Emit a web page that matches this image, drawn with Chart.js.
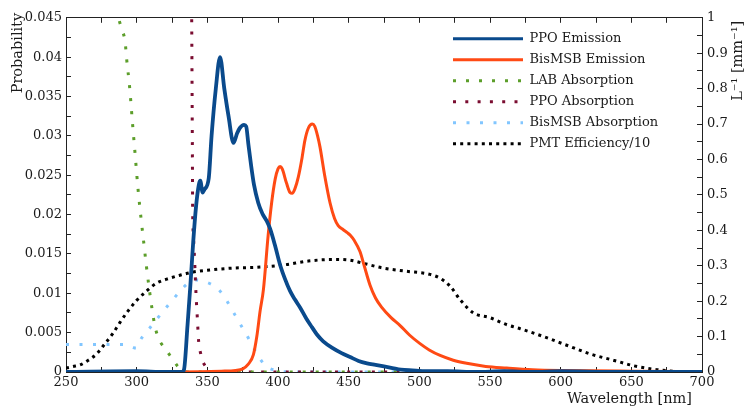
<!DOCTYPE html>
<html><head><meta charset="utf-8">
<script src="https://cdn.jsdelivr.net/npm/chart.js@4/dist/chart.umd.min.js"></script>
<style>html,body{margin:0;padding:0;background:#fff}canvas{display:block}</style>
</head><body>
<canvas id="c" width="747" height="410"></canvas>
<script>
// ---- Data (wavelength in nm) ----
const ppoEmWl  = [250,300,320,332,333.5,336,338,340,342,344,345,346.7,348,351,353,356,359,362,365,368.5,371,373,376,377.5,379,381,383,386,389,392,394.4,398,401.5,405,408.5,412,415.6,420,424,427.4,432,439,445,451,457,463,469,475,481,487,495,505,520,540,560,580,600,640,700];
const ppoEmVal = [0,0.0001,0,0,0.0003,0.006,0.011,0.0165,0.021,0.0238,0.0243,0.0228,0.0232,0.0246,0.030,0.036,0.0400,0.036,0.0325,0.0291,0.0303,0.0310,0.0314,0.0312,0.029,0.0262,0.0238,0.0215,0.0201,0.0192,0.0182,0.016,0.0136,0.0118,0.0103,0.0092,0.0082,0.0068,0.0057,0.0048,0.0039,0.003,0.0024,0.0019,0.0014,0.0011,0.0009,0.0007,0.0005,0.0003,0.0002,0.0001,0.0001,0,0.0001,0,0.0001,0,0];

const bisEmWl  = [250,330,360,370,375,379,382.6,385,387.3,389.7,393,395.5,398,400,401.5,403,406,408.5,410,412,414.4,417,419,421.5,424.3,426,428,429.7,433,436.8,440,442.6,446,449,451,454,458,461,465,469,473.4,480,486.4,493,500.5,507,514.7,524,533.5,547,561.8,580,600,650,700];
const bisEmVal = [0,0,0.0001,0.0002,0.0004,0.001,0.0022,0.0045,0.0077,0.0105,0.0173,0.0215,0.0245,0.0258,0.0261,0.0258,0.0240,0.0228,0.0227,0.0233,0.0248,0.0272,0.0294,0.031,0.0315,0.0312,0.0300,0.0286,0.0250,0.0215,0.0195,0.0186,0.0181,0.0177,0.0174,0.0167,0.0153,0.0135,0.0111,0.0094,0.0082,0.0069,0.0059,0.0047,0.0036,0.0028,0.0021,0.0015,0.0011,0.0007,0.0005,0.0003,0.0002,0.0001,0.00005];

// absorption in L^-1 [mm^-1] (right axis)
const labAbsWl  = [282,287,289.6,291.8,293,295,297,299,301,303,305,307,309,311,313,315.8,318,320.8,323,326,329,332,336,700];
const labAbsVal = [1.06,1.0,0.966,0.933,0.88,0.805,0.705,0.61,0.515,0.437,0.366,0.295,0.232,0.175,0.128,0.092,0.077,0.064,0.05,0.033,0.016,0.005,0,0];

const ppoAbsWl  = [338.8,339.2,339.5,339.6,340.1,340.7,341.3,342,342.9,343.9,345.3,346.5,348.2,351,354,360,700];
const ppoAbsVal = [1.1,0.8,0.55,0.46,0.39,0.34,0.288,0.219,0.154,0.084,0.052,0.033,0.019,0.007,0.001,0,0];

const bisAbsWl  = [250,260,270,280,292,296,299.5,303.5,309,314.6,320.3,326,331.9,337,342,346,349.6,353,357.8,363.2,367.7,372,376.7,380.7,385,389.7,394,398,403,410,700];
const bisAbsVal = [0.0778,0.0778,0.0778,0.0778,0.0778,0.072,0.0675,0.096,0.123,0.151,0.179,0.206,0.234,0.252,0.26,0.258,0.253,0.247,0.234,0.205,0.174,0.144,0.112,0.084,0.052,0.024,0.01,0.005,0.001,0,0];

// PMT efficiency / 10 (left axis)
const pmtWl  = [250,255,260,265,271.7,277.6,282.8,288.2,294.1,300,307.1,314.2,321.3,330.7,340,354,368,385,404,421.5,439,451,460.5,474.6,491,507.6,514.7,521.8,528.8,538.3,550,562,571.3,587.8,604.3,620.8,637.3,651.5,668,680,690,700];
const pmtVal = [0.0005,0.0007,0.0009,0.0014,0.0023,0.0036,0.0048,0.0063,0.0078,0.0091,0.0103,0.0113,0.0118,0.0123,0.0127,0.013,0.0132,0.0133,0.0136,0.0141,0.0143,0.0142,0.0138,0.0132,0.0128,0.0124,0.0119,0.0109,0.0092,0.0075,0.0069,0.006,0.0055,0.0045,0.0034,0.0023,0.0015,0.0008,0.0003,0.0001,0,0];

const seriesNames = ['PPO Emission','BisMSB Emission','LAB Absorption','PPO Absorption','BisMSB Absorption','PMT Efficiency/10'];
const xTicksMajor = 50, xTicksMinor = 25;
const xTitle = 'Wavelength [nm]';
const yTitle = 'Probability';
const y2Title = 'L\u207B\u00B9 [mm\u207B\u00B9]';

const pts = (xs, ys) => xs.map((x, i) => ({x, y: ys[i]}));
const FONT = '"DejaVu Serif", serif';
const TXT = '#1a1a1a';
const AX = '#222';

const titlesPlugin = {
  id: 'axisTitles',
  beforeDraw(chart) {
    const l = chart.legend;
    if (l) {
      l.left = chart.chartArea.left + 379;
      l.top = chart.chartArea.top + 6.5;
      l.right = l.left + 290;
      l.bottom = l.top + 250;
    }
  },
  afterDraw(chart) {
    const ctx = chart.ctx, ca = chart.chartArea;
    ctx.save();
    ctx.fillStyle = TXT;
    ctx.font = '14.5px ' + FONT;
    ctx.textBaseline = 'middle';
    ctx.textAlign = 'right';
    ctx.fillText(xTitle, ca.right - 10, ca.bottom + 27);
    ctx.save();
    ctx.translate(18, ca.top - 5);
    ctx.rotate(-Math.PI / 2);
    ctx.textAlign = 'right';
    ctx.fillText(yTitle, 0, 0);
    ctx.restore();
    ctx.save();
    ctx.translate(ca.right + 36, ca.top + 3);
    ctx.rotate(-Math.PI / 2);
    ctx.textAlign = 'right';
    ctx.fillText(y2Title, 0, 0);
    ctx.restore();
    ctx.restore();
  }
};

const solid = (label, xs, ys, color, w, axis) => ({
  label, data: pts(xs, ys), borderColor: color, backgroundColor: color,
  borderWidth: w, pointRadius: 0, fill: false, yAxisID: axis,
  cubicInterpolationMode: 'monotone', borderJoinStyle: 'round'
});
const dotted = (label, xs, ys, color, dash, axis) => ({
  label, data: pts(xs, ys), borderColor: color, backgroundColor: color,
  borderWidth: 3, borderDash: dash, borderCapStyle: 'butt', pointRadius: 0, fill: false, yAxisID: axis,
  cubicInterpolationMode: 'monotone'
});

const gridCommon = { drawOnChartArea: false, drawTicks: true, tickLength: -5, tickColor: AX, tickWidth: 1 };
const borderCommon = { display: true, color: AX, width: 1 };

new Chart(document.getElementById('c'), {
  type: 'line',
  data: {
    datasets: [
      solid(seriesNames[0], ppoEmWl, ppoEmVal, '#0a4a8c', 3.8, 'y'),
      solid(seriesNames[1], bisEmWl, bisEmVal, '#ff4a14', 3, 'y'),
      dotted(seriesNames[2], labAbsWl, labAbsVal, '#5c9e2a', [3, 10], 'y2'),
      dotted(seriesNames[3], ppoAbsWl, ppoAbsVal, '#7a0c30', [3, 9.3], 'y2'),
      dotted(seriesNames[4], bisAbsWl, bisAbsVal, '#82c6ff', [3, 10.5], 'y2'),
      dotted(seriesNames[5], pmtWl, pmtVal, '#000000', [3, 4.2], 'y')
    ]
  },
  options: {
    responsive: false,
    animation: false,
    devicePixelRatio: 1,
    layout: { padding: 0 },
    plugins: {
      tooltip: { enabled: false },
      legend: {
        position: 'chartArea',
        align: 'start',
        labels: {
          usePointStyle: true, pointStyle: 'line', pointStyleWidth: 70, boxHeight: 13,
          padding: 8, color: TXT, font: { family: FONT, size: 13 },
          generateLabels: chart => {
            const items = Chart.defaults.plugins.legend.labels.generateLabels(chart);
            items.forEach(it => {
              const ds = chart.data.datasets[it.datasetIndex];
              it.lineDash = ds.borderDash || [];
              it.lineWidth = Math.min(ds.borderWidth, 3);
              it.lineCap = 'butt';
              it.strokeStyle = ds.borderColor;
              it.fillStyle = ds.borderColor;
              it.pointStyle = 'line';
            });
            return items;
          }
        }
      }
    },
    scales: {
      x: {
        type: 'linear', position: 'bottom', min: 250, max: 700,
        afterFit: s => { s.height = 38; },
        grid: gridCommon, border: borderCommon,
        ticks: { stepSize: xTicksMinor, autoSkip: false, maxRotation: 0, padding: 8, color: TXT,
          font: { family: FONT, size: 13 },
          callback: v => (Math.abs(v % xTicksMajor) < 1e-9 ? String(v) : '') }
      },
      x2: {
        type: 'linear', position: 'top', min: 250, max: 700,
        afterFit: s => { s.height = 12; },
        grid: gridCommon, border: borderCommon,
        ticks: { stepSize: xTicksMinor, autoSkip: false, display: false }
      },
      y: {
        type: 'linear', position: 'left', min: 0, max: 0.045,
        afterFit: s => { s.width = 66; },
        grid: gridCommon, border: borderCommon,
        ticks: { stepSize: 0.0025, maxTicksLimit: 100, autoSkip: false, padding: 9, color: TXT,
          font: { family: FONT, size: 13 },
          callback: v => { const k = v * 200; return Math.abs(k - Math.round(k)) < 1e-6 ? String(Math.round(v * 1000) / 1000) : ''; } }
      },
      y2: {
        type: 'linear', position: 'right', min: 0, max: 1,
        afterFit: s => { s.width = 45; },
        grid: gridCommon, border: borderCommon,
        ticks: { stepSize: 0.05, maxTicksLimit: 100, autoSkip: false, padding: 10, color: TXT,
          font: { family: FONT, size: 13 },
          callback: v => { const k = v * 10; return Math.abs(k - Math.round(k)) < 1e-6 ? String(Math.round(v * 10) / 10) : ''; } }
      }
    }
  },
  plugins: [titlesPlugin]
});
</script>
</body></html>
